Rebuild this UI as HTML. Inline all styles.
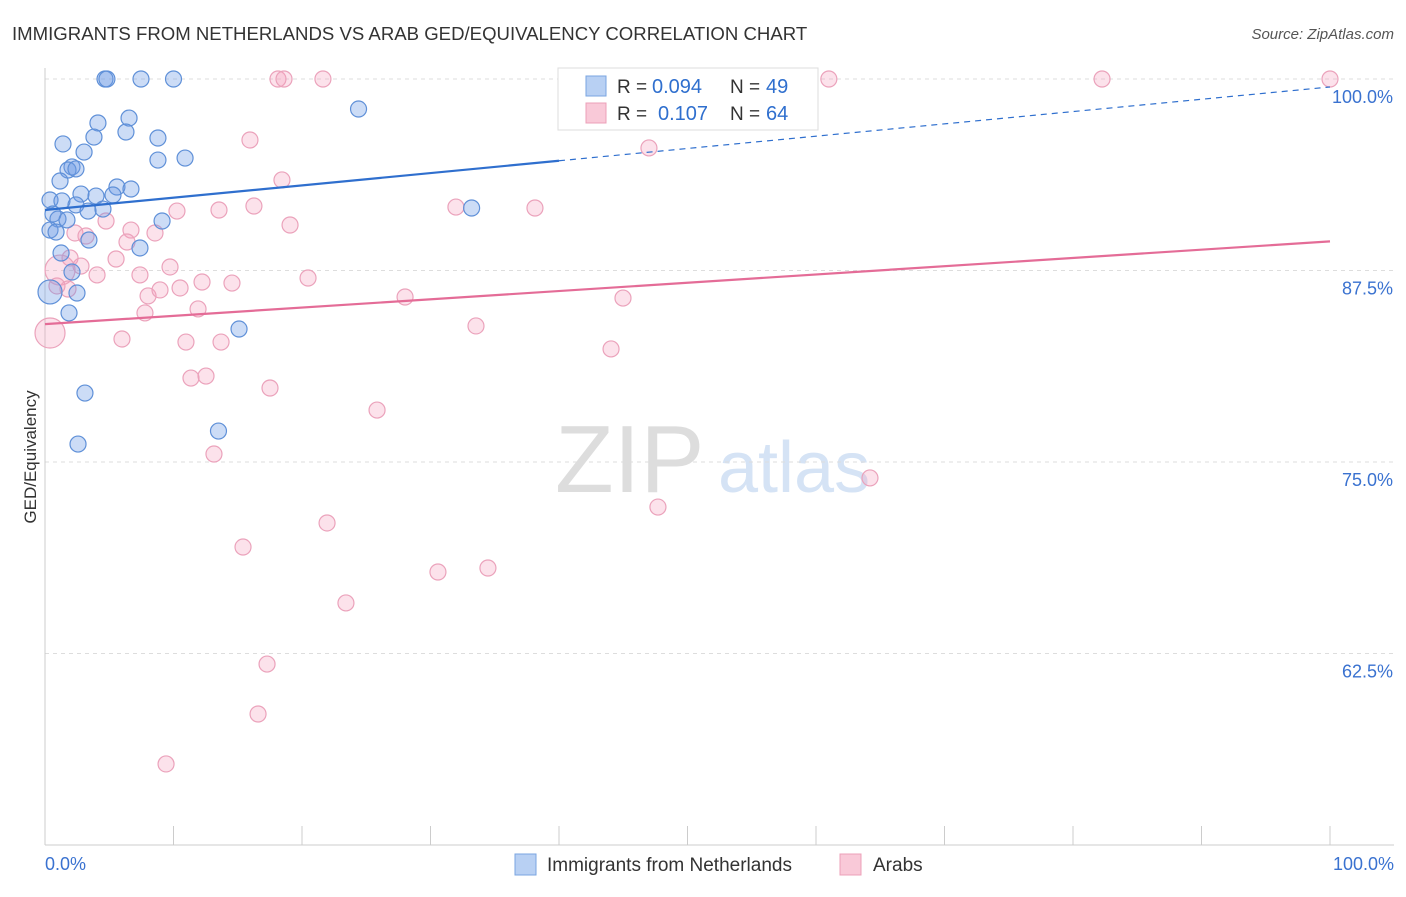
<!DOCTYPE html>
<html><head><meta charset="utf-8"><style>
body{margin:0;background:#fff;font-family:"Liberation Sans",sans-serif;}
svg text{font-family:"Liberation Sans",sans-serif;}
</style></head><body>
<svg id="chart" width="1406" height="892" xmlns="http://www.w3.org/2000/svg">
<text x="12" y="40" font-size="18.6" fill="#333">IMMIGRANTS FROM NETHERLANDS VS ARAB GED/EQUIVALENCY CORRELATION CHART</text>
<text x="1394" y="39" font-size="15" fill="#555" text-anchor="end" font-style="italic">Source: ZipAtlas.com</text>
<text x="36" y="457" font-size="17" fill="#333" text-anchor="middle" transform="rotate(-90 36 457)">GED/Equivalency</text>
<g>
<text x="555" y="492" font-size="96" fill="#ddd" font-family="Liberation Serif">ZIP</text>
<text x="718" y="492" font-size="72" fill="#d5e3f5">atlas</text>
</g>
<g id="grid"></g><g id="axes"></g><g id="marks"></g>
<g>
<rect x="558" y="68" width="260" height="62" fill="#fff" stroke="#ddd"/>
<rect x="586" y="76" width="20" height="20" fill="#b8d0f3" stroke="#7aa5e0"/>
<text x="617" y="93" font-size="19" fill="#333">R =</text>
<text x="652" y="93" font-size="20" fill="#2f6fce">0.094</text>
<text x="730" y="93" font-size="19" fill="#333">N =</text>
<text x="766" y="93" font-size="20" fill="#2f6fce">49</text>
<rect x="586" y="103" width="20" height="20" fill="#f9c9d8" stroke="#eca0b8"/>
<text x="617" y="120" font-size="19" fill="#333">R =</text>
<text x="658" y="120" font-size="20" fill="#2f6fce">0.107</text>
<text x="730" y="120" font-size="19" fill="#333">N =</text>
<text x="766" y="120" font-size="20" fill="#2f6fce">64</text>
</g>
<g>
<rect x="515" y="854" width="21" height="21" fill="#b8d0f3" stroke="#7aa5e0"/>
<text x="547" y="871" font-size="19" fill="#333">Immigrants from Netherlands</text>
<rect x="840" y="854" width="21" height="21" fill="#f9c9d8" stroke="#eca0b8"/>
<text x="873" y="871" font-size="19" fill="#333">Arabs</text>
</g>
</svg>
<script>
const yTicks=[100,87.5,75,62.5];
const yTickLabels=["100.0%","87.5%","75.0%","62.5%"];
const xTickLabels=["0.0%","100.0%"];
const blueX=[4.67,4.82,7.47,10.0,24.4,6.54,4.12,6.30,3.81,8.79,1.40,3.04,8.79,10.9,2.10,1.79,2.41,1.17,5.60,6.69,2.80,3.97,5.29,0.39,1.32,2.41,3.35,4.51,0.62,1.01,1.71,9.11,33.2,0.39,0.86,3.42,7.39,1.25,2.10,2.49,0.39,1.87,15.1,3.11,13.5,2.57];
const blueY=[100,100,100,100,98.04,97.45,97.13,96.54,96.21,96.15,95.76,95.23,94.71,94.84,94.26,94.06,94.13,93.34,92.95,92.82,92.49,92.36,92.43,92.10,92.04,91.78,91.38,91.51,91.19,90.86,90.80,90.73,91.58,90.14,90.01,89.49,88.97,88.64,87.40,86.03,86.10,84.73,83.68,79.50,77.02,76.17];
const blueBig=[40];
const pinkX=[18.13,18.6,21.63,61.0,82.26,100,15.95,47.0,18.44,16.26,10.27,13.54,31.98,38.13,19.07,4.75,6.69,8.56,2.33,3.19,6.38,1.95,5.53,2.80,9.73,4.05,7.39,1.17,20.47,12.22,14.55,8.02,10.51,8.95,1.79,28.02,44.98,11.91,7.78,33.54,5.99,10.97,13.7,44.05,11.36,12.53,17.51,25.84,13.15,64.2,47.7,21.95,15.41,34.47,30.58,23.42,17.28,16.58,9.42,0.39,0.93];
const pinkY=[100,100,100,100,100,100,96.02,95.5,93.41,91.71,91.38,91.45,91.64,91.58,90.47,90.73,90.14,89.95,89.95,89.75,89.36,88.32,88.25,87.79,87.73,87.21,87.21,87.53,87.01,86.75,86.68,85.84,86.36,86.23,86.29,85.77,85.70,84.99,84.73,83.88,83.03,82.83,82.83,82.38,80.48,80.61,79.83,78.39,75.52,73.96,72.06,71.02,69.45,68.08,67.82,65.80,61.81,58.55,55.29,83.42,86.49];
const pinkBig=[27,59];
const blueTrend=[91.45,99.48];
const pinkTrend=[84.0,89.4];
const NS="http://www.w3.org/2000/svg";
const X=v=>45+v*12.85, Y=v=>79+(100-v)*15.32;
function mk(t,a,p){const e=document.createElementNS(NS,t);for(const k in a)e.setAttribute(k,a[k]);p.appendChild(e);return e;}
const grid=document.getElementById('grid'),axes=document.getElementById('axes'),marks=document.getElementById('marks');
yTicks.forEach((t,i)=>{
 const l=mk('line',{x1:45,x2:1394,y1:Y(t),y2:Y(t),stroke:'#ddd','stroke-dasharray':'4,4'},grid);
 
 
 const tx=mk('text',{x:1393,y:Y(t)+24,'font-size':18,fill:'#3a72d0','text-anchor':'end'},axes);
 tx.textContent=yTickLabels[i];
 
 
});
const ax=mk('line',{x1:45,x2:45,y1:68,y2:845,stroke:'#ccc'},axes);


const bx=mk('line',{x1:45,x2:1394,y1:845,y2:845,stroke:'#ccc'},axes);


for(let i=0;i<=10;i++){const t=mk('line',{x1:X(i*10),x2:X(i*10),y1:826,y2:845,stroke:'#ccc'},axes);
 
 }
[[0,'start',45],[100,'end',1394]].forEach((d,i)=>{const t=mk('text',{x:d[2],y:870,'font-size':18,fill:'#3a72d0','text-anchor':d[1]},axes);t.textContent=xTickLabels[i];
 
 });
function pts(xs,ys,big,fill,stroke,name,br){xs.forEach((x,i)=>{const c=mk('circle',{cx:X(x),cy:Y(ys[i]),r:big.includes(i)?br:8,fill:fill,stroke:stroke,'stroke-width':1.2},marks);
 
 });}
pts(pinkX,pinkY,pinkBig,'rgba(245,160,190,0.3)','#eba2bb','arab-point',15);
pts(blueX,blueY,blueBig,'rgba(110,155,230,0.35)','#5f90d8','netherlands-point',12);
const by=v=>blueTrend[0]+(blueTrend[1]-blueTrend[0])*v/100;
let l1=mk('line',{x1:X(0),y1:Y(by(0)),x2:X(40),y2:Y(by(40)),stroke:'#2f6fce','stroke-width':2.2},marks);


let l2=mk('line',{x1:X(40),y1:Y(by(40)),x2:X(100),y2:Y(by(100)),stroke:'#2f6fce','stroke-width':1.2,'stroke-dasharray':'6,5'},marks);


let l3=mk('line',{x1:X(0),y1:Y(pinkTrend[0]),x2:X(100),y2:Y(pinkTrend[1]),stroke:'#e46c97','stroke-width':2.2},marks);


</script>
</body></html>
